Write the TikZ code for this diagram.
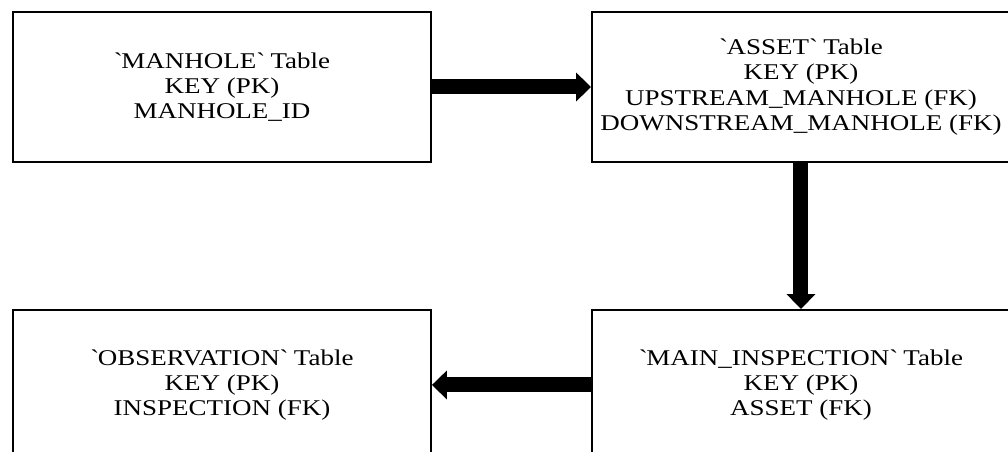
\documentclass[tikz,border=0pt]{standalone}
\usepackage{fontspec}
\setmainfont{Liberation Serif}[FakeStretch=1.2]
\usepackage{tikz}
\usetikzlibrary{arrows.meta, positioning}

\begin{document}
\begin{tikzpicture}[
    table/.style={rectangle, draw, line width=1.4pt,
      minimum width=10.45cm, minimum height=3.75cm, align=center,
      font=\fontsize{16pt}{17.9pt}\selectfont},
    fat/.style={line width=0.375cm,
      -{Triangle[length=0.37cm, width=0.72cm, line width=0pt]}}
]
\useasboundingbox (0,0) rectangle (25.2,-11.3);
\node[table] (manhole) at (5.55,-2.175)
  {\textasciigrave MANHOLE\textasciigrave{} Table\\KEY (PK)\\MANHOLE\_ID};
\node[table, right=3.975cm of manhole] (asset)
  {\textasciigrave ASSET\textasciigrave{} Table\\KEY (PK)\\UPSTREAM\_MANHOLE (FK)\\DOWNSTREAM\_MANHOLE (FK)};
\node[table, below=3.65cm of asset] (maininsp)
  {\textasciigrave MAIN\_INSPECTION\textasciigrave{} Table\\KEY (PK)\\ASSET (FK)};
\node[table, left=3.975cm of maininsp] (obs)
  {\textasciigrave OBSERVATION\textasciigrave{} Table\\KEY (PK)\\INSPECTION (FK)};
\draw[fat] (manhole.east) -- (asset.west);
\draw[fat] (asset.south) -- (maininsp.north);
\draw[fat] (maininsp.west) -- (obs.east);
\end{tikzpicture}
\end{document}
